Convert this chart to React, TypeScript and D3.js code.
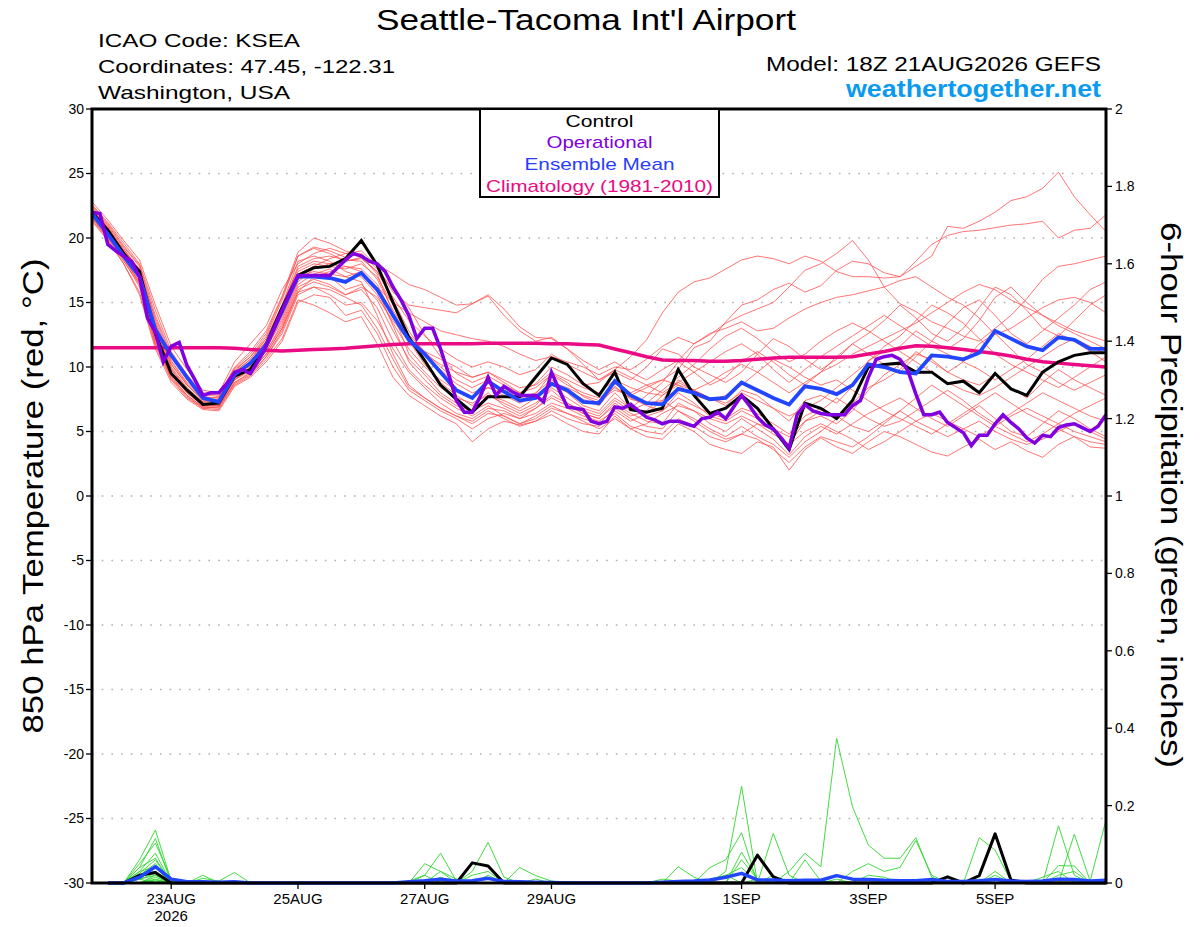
import React from "react";
import * as d3 from "d3";

// ---------- time base ----------
const START_UTC = Date.UTC(2026, 7, 21, 18);
const END_UTC = Date.UTC(2026, 8, 6, 18);
const HOUR_MS = 3600 * 1000;
const STEP_H = 6;
const OP_STEP_H = 3;

const dateTicks = [
  Date.UTC(2026, 7, 23), Date.UTC(2026, 7, 25), Date.UTC(2026, 7, 27), Date.UTC(2026, 7, 29),
  Date.UTC(2026, 8, 1), Date.UTC(2026, 8, 3), Date.UTC(2026, 8, 5),
];
const dateTickLabels = ["23AUG", "25AUG", "27AUG", "29AUG", "1SEP", "3SEP", "5SEP"];
const yearLabel = "2026";

const tempTicks = [30, 25, 20, 15, 10, 5, 0, -5, -10, -15, -20, -25, -30];
const gridTemps = [25, 20, 15, 10, 5, 0, -5, -10, -15, -20, -25];
const precipTicks = [0, 0.2, 0.4, 0.6, 0.8, 1, 1.2, 1.4, 1.6, 1.8, 2];
const precipTickLabels = ["0", "0.2", "0.4", "0.6", "0.8", "1", "1.2", "1.4", "1.6", "1.8", "2"];

// ---------- temperature (850 hPa, °C), 6-hourly from 21AUG 18Z ----------
const control = [22.0, 20.6, 18.8, 17.4, 12.6, 9.5, 8.2, 7.1, 7.2, 9.3,
  9.8, 11.8, 14.6, 17.1, 17.7, 17.8, 18.4, 19.8, 17.9, 15.0,
  12.3, 10.5, 8.6, 7.5, 6.5, 7.7, 7.7, 7.7, 9.2, 10.7,
  10.2, 8.7, 7.8, 9.6, 6.7, 6.5, 6.8, 9.8, 7.8, 6.4,
  6.8, 7.8, 6.8, 5.2, 3.6, 7.2, 6.8, 6.0, 7.4, 10.0,
  10.2, 10.3, 9.6, 9.6, 8.7, 8.9, 8.0, 9.5, 8.3, 7.8,
  9.6, 10.4, 10.9, 11.1, 11.1];

const ensMean = [21.9, 20.3, 18.6, 17.0, 12.9, 10.9, 9.2, 7.6, 7.3, 9.4,
  10.3, 11.7, 14.3, 17.0, 17.0, 16.9, 16.6, 17.3, 16.0, 14.0,
  12.1, 11.0, 9.6, 8.2, 7.6, 8.9, 8.1, 7.4, 7.6, 8.7,
  8.2, 7.3, 7.2, 8.9, 7.8, 7.2, 7.1, 8.3, 8.0, 7.5,
  7.6, 8.8, 8.2, 7.6, 7.1, 8.5, 8.3, 7.9, 8.6, 10.2,
  10.0, 9.6, 9.5, 10.9, 10.8, 10.6, 11.1, 12.8, 12.2, 11.6,
  11.3, 12.3, 12.1, 11.4, 11.4];

// operational run, 3-hourly
const operational = [22.0, 21.9, 19.5, 19.0, 18.6, 18.2, 17.0, 13.8, 12.7, 10.4,
  11.6, 11.9, 10.1, 9.0, 7.8, 8.0, 8.0, 8.7, 9.6, 9.8,
  9.5, 10.5, 11.6, 13.0, 14.4, 15.8, 17.1, 17.1, 17.1, 17.1,
  17.1, 17.7, 18.3, 18.8, 18.6, 18.2, 18.0, 17.4, 16.2, 15.2,
  14.0, 12.2, 13.0, 13.0, 11.4, 9.5, 7.4, 6.5, 6.5, 7.7,
  9.2, 7.8, 8.5, 8.1, 7.8, 7.8, 7.8, 7.3, 9.6, 8.2,
  6.9, 6.8, 6.7, 5.8, 5.6, 5.8, 6.9, 6.8, 7.1, 6.6,
  6.1, 5.9, 5.6, 5.8, 5.8, 5.6, 5.4, 6.0, 6.1, 6.5,
  6.0, 6.9, 7.8, 7.0, 6.1, 5.5, 5.2, 4.5, 3.7, 6.3,
  7.1, 6.6, 6.4, 6.3, 6.3, 6.3, 7.0, 7.4, 9.2, 10.6,
  10.8, 10.9, 10.6, 9.7, 7.9, 6.3, 6.3, 6.5, 5.7, 5.3,
  4.9, 3.9, 4.7, 4.7, 5.6, 6.3, 5.7, 5.2, 4.5, 4.1,
  4.7, 4.6, 5.3, 5.5, 5.6, 5.3, 5.0, 5.4, 6.3];

const climatology = [11.5, 11.5, 11.5, 11.5, 11.5, 11.5, 11.5, 11.5, 11.5, 11.45,
  11.35, 11.3, 11.25, 11.3, 11.35, 11.4, 11.45, 11.55, 11.65, 11.75,
  11.8, 11.8, 11.8, 11.8, 11.8, 11.85, 11.85, 11.85, 11.85, 11.8,
  11.8, 11.75, 11.7, 11.4, 11.1, 10.8, 10.55, 10.5, 10.5, 10.45,
  10.45, 10.5, 10.6, 10.7, 10.75, 10.75, 10.75, 10.75, 10.8, 11.0,
  11.2, 11.45, 11.65, 11.6, 11.5, 11.35, 11.2, 11.05, 10.85, 10.6,
  10.4, 10.3, 10.2, 10.1, 10.0];

// ensemble members
const m01 = [22.4, 21.0, 19.3, 17.8, 13.6, 10.5, 8.8, 7.6, 7.6, 9.8, 10.8, 12.4, 15.2, 18.6,
  19.3, 19.0, 18.5, 18.8, 17.6, 16.0, 14.6,
  12.5, 10.8, 9.5, 8.8, 9.3, 8.6, 8.0, 8.7, 10.0, 9.4,
  8.6, 8.8, 9.8, 10.8, 12.1, 14.2, 15.8, 16.6, 16.9, 17.6,
  18.3, 18.6, 18.4, 18.0, 18.6, 18.2, 17.4, 17.0, 17.0, 16.9,
  17.0, 17.8, 18.6, 20.9, 20.75, 21.3, 22.0, 22.9, 23.2, 23.85,
  25.1, 23.2, 21.8, 20.5];
const m02 = [21.8, 20.3, 18.7, 16.8, 12.4, 9.6, 8.0, 7.0, 7.0, 9.0, 10.0, 11.5, 13.6, 16.6,
  17.6, 18.0, 18.2, 18.5, 17.4, 15.2, 12.8,
  11.0, 9.8, 8.7, 8.0, 8.4, 8.0, 7.4, 7.9, 9.5, 8.8,
  7.7, 7.2, 8.7, 8.0, 8.6, 9.0, 9.8, 11.5, 12.0, 13.5,
  14.8, 15.2, 16.0, 16.5, 15.8, 16.3, 17.5, 18.2, 18.0, 17.3,
  17.0, 18.2, 19.5, 20.2, 20.5, 20.6, 20.8, 21.0, 21.1, 21.3,
  20.0, 20.6, 20.75, 21.8];
const m03 = [22.6, 21.2, 19.6, 18.0, 14.4, 11.2, 9.4, 8.0, 7.8, 10.0, 11.2, 12.8, 15.5, 18.9,
  20.0, 19.6, 19.0, 18.6, 18.0, 17.2, 16.4,
  16.0, 15.4, 14.8, 14.9, 15.5, 14.0, 12.8, 12.0, 12.3, 11.4,
  10.5, 9.8, 10.4, 9.6, 9.0, 9.8, 10.5, 11.8, 12.6, 13.0,
  13.5, 12.8, 13.0, 13.8, 14.5, 15.0, 15.4, 15.6, 15.9, 16.2,
  16.7, 17.0, 16.2, 15.4, 14.8, 13.8, 12.5, 13.0, 13.8, 14.6,
  15.2, 15.4, 15.0, 14.2];
const m04 = [21.6, 20.0, 18.2, 16.4, 12.0, 9.2, 7.8, 6.9, 6.8, 8.8, 9.6, 11.0, 13.0, 15.8,
  17.0, 17.4, 17.8, 17.4, 16.2, 15.0, 14.2,
  13.5, 12.8, 12.5, 12.2, 12.0, 11.6, 11.0, 10.5, 10.8, 10.4,
  10.0, 9.4, 10.0, 9.8, 10.6, 11.6, 12.3, 11.8, 12.5, 13.4,
  14.0, 14.5, 15.0, 16.2, 17.5, 18.0, 18.8, 19.8, 18.3, 16.2,
  14.9, 14.3, 13.5, 13.0, 12.4, 12.0, 13.0, 14.0, 15.3, 16.8,
  17.8, 18.0, 18.3, 18.6];
const m05 = [21.4, 19.9, 18.0, 15.8, 11.6, 9.0, 7.6, 6.8, 6.7, 8.6, 9.3, 10.6, 12.2, 15.2,
  14.8, 14.2, 13.5, 13.9, 11.8, 9.2, 7.8,
  7.0, 6.2, 5.6, 4.2, 5.2, 5.8, 5.5, 5.8, 6.3, 5.6,
  5.0, 4.8, 6.2, 5.2, 4.6, 4.4, 5.6, 5.0, 4.0, 3.6,
  3.3, 4.2, 3.8, 2.0, 3.6, 4.5, 3.8, 3.3, 4.2, 5.0,
  4.6, 4.0, 3.4, 3.1, 3.8, 4.4, 3.6, 4.2, 3.5, 3.0,
  4.0, 4.6, 3.8, 3.7];
const m06 = [22.2, 20.8, 19.0, 17.5, 13.2, 10.2, 8.6, 7.4, 7.5, 9.6, 10.6, 12.0, 14.6, 17.8,
  18.4, 18.6, 18.3, 18.2, 16.8, 14.4, 12.5,
  11.2, 10.0, 9.0, 8.4, 9.0, 8.2, 7.6, 8.0, 9.0, 8.2,
  7.5, 7.0, 8.5, 7.5, 7.2, 7.4, 9.0, 8.2, 7.6, 7.0,
  8.2, 7.8, 6.8, 5.8, 7.4, 7.8, 7.2, 8.5, 10.5, 11.2,
  11.6, 12.8, 12.0, 11.4, 12.2, 13.6, 15.4, 16.2, 15.0, 14.0,
  13.2, 12.6, 12.0, 11.4];
const m07 = [21.9, 20.4, 18.5, 16.9, 12.2, 9.4, 8.0, 7.1, 7.2, 9.2, 10.0, 11.4, 13.8, 16.8,
  17.2, 17.0, 16.0, 16.4, 15.2, 12.8, 10.6,
  9.4, 8.0, 7.2, 6.6, 7.8, 7.4, 6.8, 7.6, 8.8, 8.0,
  7.0, 6.6, 8.0, 6.8, 6.2, 6.6, 8.0, 7.2, 6.2, 5.8,
  6.6, 6.0, 5.0, 4.0, 5.8, 6.2, 5.6, 6.6, 8.2, 9.4,
  10.2, 11.0, 10.6, 9.6, 9.0, 8.6, 9.4, 8.4, 7.6, 8.8,
  9.8, 9.0, 8.4, 7.8];
const m08 = [22.8, 21.4, 19.8, 18.3, 14.8, 11.6, 9.8, 8.2, 8.0, 10.4, 11.8, 13.2, 16.0, 18.0,
  18.8, 19.2, 18.8, 19.0, 17.8, 15.8, 14.8,
  14.6, 14.4, 14.2, 14.9, 15.6, 14.5, 13.1, 12.3, 12.2, 11.4,
  10.2, 9.0, 9.6, 9.0, 10.0, 11.4, 11.0, 10.0, 9.4, 8.8,
  9.6, 11.0, 12.2, 11.6, 10.6, 9.8, 10.6, 11.8, 12.6, 13.6,
  14.8, 13.8, 12.6, 12.0, 13.0, 14.6, 16.2, 15.6, 14.4, 13.0,
  12.4, 13.6, 14.8, 15.6];
const m09 = [21.5, 20.0, 18.3, 16.2, 11.8, 9.3, 7.8, 6.9, 6.9, 8.8, 9.5, 10.8, 12.6, 15.6,
  16.2, 15.6, 14.8, 15.0, 13.6, 11.4, 9.6,
  8.4, 7.2, 6.4, 6.0, 6.8, 6.6, 6.0, 6.8, 7.6, 7.0,
  6.4, 6.0, 7.2, 6.4, 5.8, 5.6, 7.2, 6.6, 5.6, 5.0,
  6.0, 5.2, 4.4, 3.2, 4.6, 5.4, 4.8, 5.6, 6.4, 7.0,
  7.6, 6.8, 6.0, 5.4, 6.2, 7.0, 6.0, 5.0, 4.6, 5.6,
  6.6, 6.0, 5.2, 4.6];
const m10 = [22.1, 20.7, 19.1, 17.6, 13.4, 10.4, 8.7, 7.5, 7.4, 9.5, 10.4, 12.0, 14.4, 17.4,
  18.0, 17.8, 17.6, 18.0, 17.0, 14.8, 12.0,
  10.2, 8.8, 7.8, 7.0, 8.0, 7.0, 6.4, 7.0, 8.4, 7.6,
  6.8, 6.4, 7.6, 6.8, 7.8, 8.8, 10.4, 9.6, 8.6, 9.2,
  10.4, 11.2, 10.4, 9.4, 8.6, 9.6, 10.8, 11.8, 11.0, 10.2,
  9.6, 10.8, 12.0, 13.4, 14.6, 15.2, 14.0, 12.6, 11.8, 12.8,
  13.8, 14.8, 16.0, 16.6];
const m11 = [21.7, 20.2, 18.4, 16.6, 12.6, 9.8, 8.2, 7.2, 7.1, 9.1, 9.8, 11.2, 13.2, 16.2,
  16.8, 16.4, 15.6, 16.0, 14.6, 12.0, 9.8,
  8.6, 7.6, 6.8, 6.2, 7.0, 6.2, 5.6, 6.2, 7.0, 6.4,
  6.0, 5.6, 6.8, 6.0, 5.4, 5.2, 6.6, 6.0, 5.2, 4.6,
  5.4, 4.6, 4.0, 3.0, 4.2, 5.0, 6.0, 7.2, 8.4, 9.0,
  9.8, 11.2, 10.4, 9.6, 10.4, 11.8, 12.6, 11.4, 10.2, 9.6,
  8.8, 8.2, 8.8, 9.4];
const m12 = [22.3, 20.9, 19.2, 17.4, 13.8, 10.8, 9.0, 7.7, 7.6, 9.7, 10.8, 12.2, 14.8, 18.2,
  18.6, 18.2, 17.4, 17.0, 15.6, 13.4, 11.4,
  10.0, 9.0, 8.2, 7.6, 8.4, 7.8, 7.2, 7.8, 8.8, 8.4,
  7.8, 7.4, 8.2, 7.8, 8.4, 9.0, 8.6, 7.8, 7.4, 7.8,
  8.6, 9.6, 10.6, 10.0, 9.2, 8.6, 9.0, 8.2, 7.4, 6.6,
  6.0, 5.4, 4.8, 5.6, 6.4, 7.2, 8.0, 7.2, 6.4, 5.8,
  5.2, 4.6, 4.2, 4.0];
const m13 = [21.3, 19.8, 18.0, 15.6, 11.4, 8.8, 7.5, 6.7, 6.6, 8.5, 9.2, 10.4, 12.0, 15.0,
  15.6, 15.4, 14.0, 14.4, 12.6, 10.0, 8.2,
  7.4, 6.6, 6.0, 5.2, 6.0, 6.4, 6.0, 6.4, 7.2, 6.8,
  6.2, 5.8, 6.6, 5.8, 6.4, 7.4, 6.6, 5.8, 5.0, 4.4,
  4.8, 5.6, 5.2, 4.6, 5.8, 6.6, 7.6, 6.8, 6.0, 5.4,
  5.8, 6.6, 7.4, 8.2, 7.4, 6.4, 5.6, 6.4, 7.2, 8.0,
  7.4, 6.8, 6.2, 5.8];
const m14 = [22.0, 20.5, 18.7, 17.0, 12.8, 9.9, 8.3, 7.3, 7.3, 9.4, 10.1, 11.6, 14.2, 17.2,
  17.8, 18.4, 18.8, 18.6, 17.2, 14.2, 11.0,
  9.6, 8.4, 7.6, 7.2, 7.8, 7.2, 6.6, 7.2, 8.2, 7.2,
  6.4, 6.0, 7.0, 6.2, 6.6, 7.8, 8.8, 9.6, 10.4, 11.2,
  11.8, 11.0, 9.8, 8.8, 9.8, 10.8, 11.6, 12.4, 13.2, 14.0,
  13.2, 12.4, 11.6, 11.0, 10.4, 9.8, 9.0, 9.8, 10.6, 11.6,
  12.6, 12.0, 11.2, 10.4];
const m15 = [21.6, 20.1, 18.4, 16.6, 12.4, 9.6, 8.1, 7.1, 7.0, 9.0, 9.9, 11.2, 13.4, 16.4,
  17.2, 17.6, 17.0, 16.6, 14.0, 11.0, 8.6,
  7.6, 6.8, 6.2, 5.8, 6.6, 6.0, 5.4, 5.8, 6.6, 6.0,
  5.6, 5.4, 6.4, 5.4, 5.0, 4.8, 6.0, 5.4, 4.6, 4.2,
  4.8, 4.4, 3.6, 2.6, 3.8, 4.6, 4.2, 3.8, 4.6, 5.6,
  6.6, 7.6, 8.6, 7.8, 7.0, 6.2, 5.4, 4.8, 4.2, 4.8,
  5.6, 6.4, 7.0, 7.6];
const m16 = [22.5, 21.1, 19.4, 17.9, 14.0, 11.0, 9.2, 7.9, 7.7, 9.9, 11.0, 12.6, 15.4, 18.6,
  19.2, 18.8, 18.2, 18.4, 17.4, 15.4, 13.6,
  12.4, 11.4, 10.6, 10.0, 10.4, 10.0, 9.4, 9.8, 11.0, 10.2,
  9.6, 9.0, 9.8, 9.2, 8.6, 8.0, 8.8, 8.2, 7.6, 7.2,
  8.0, 7.4, 6.8, 6.2, 6.8, 7.4, 8.4, 9.4, 10.4, 11.6,
  12.4, 13.6, 14.8, 14.2, 13.4, 12.2, 11.0, 10.2, 9.6, 9.0,
  8.4, 9.2, 10.0, 10.8];
const m17 = [21.9, 20.4, 18.6, 16.8, 12.2, 9.5, 8.0, 7.0, 7.0, 9.0, 9.7, 11.0, 13.0, 16.0,
  16.6, 16.2, 15.6, 16.2, 15.4, 13.6, 12.0,
  11.0, 10.2, 9.6, 9.2, 9.6, 8.8, 8.0, 8.4, 9.4, 8.6,
  8.0, 7.6, 8.4, 7.6, 7.0, 6.6, 7.6, 7.0, 6.4, 6.0,
  6.8, 6.4, 5.6, 4.8, 6.2, 6.8, 6.2, 5.4, 5.0, 5.8,
  6.6, 5.8, 5.2, 4.6, 5.2, 5.8, 5.0, 4.4, 4.0, 4.4,
  5.0, 5.6, 5.0, 4.4];
const m18 = [22.2, 20.8, 19.0, 17.4, 13.2, 10.2, 8.6, 7.5, 7.4, 9.6, 10.6, 12.2, 14.8, 17.6,
  18.2, 18.0, 17.8, 17.6, 16.4, 14.0, 12.2,
  11.2, 10.6, 10.0, 9.2, 9.6, 9.0, 8.4, 8.6, 9.6, 9.0,
  8.4, 8.0, 9.0, 8.4, 8.0, 7.8, 8.6, 8.2, 8.8, 9.6,
  10.2, 9.6, 8.8, 8.0, 8.8, 9.6, 10.2, 11.0, 11.6, 12.2,
  12.8, 13.4, 14.2, 15.0, 15.8, 16.4, 16.0, 15.2, 14.6, 14.0,
  13.4, 12.8, 12.4, 12.0];
const m19 = [21.8, 20.3, 18.5, 16.4, 11.8, 9.1, 7.7, 6.8, 6.9, 8.7, 9.4, 10.8, 12.8, 15.8,
  16.2, 16.0, 15.4, 14.8, 13.0, 10.6, 8.4,
  7.6, 6.8, 6.2, 5.6, 6.4, 6.2, 5.6, 6.0, 6.8, 6.4,
  5.8, 5.2, 6.0, 5.2, 5.6, 6.4, 7.0, 6.6, 6.0, 5.6,
  6.2, 5.6, 4.8, 4.0, 5.0, 5.6, 5.0, 4.4, 3.6, 4.2,
  5.0, 5.8, 6.4, 5.8, 5.2, 4.6, 5.4, 6.2, 6.8, 6.2,
  5.6, 5.0, 4.6, 4.2];
const m20 = [22.0, 20.6, 18.9, 17.2, 13.0, 10.0, 8.4, 7.3, 7.3, 9.3, 10.2, 11.7, 14.0, 17.0,
  17.4, 17.2, 17.0, 17.4, 16.0, 13.2, 10.4,
  9.0, 7.8, 7.0, 6.6, 7.2, 6.8, 6.2, 6.8, 7.8, 7.2,
  6.6, 6.2, 7.4, 6.6, 7.2, 8.2, 9.2, 10.2, 11.4, 12.4,
  13.0, 12.2, 11.2, 10.4, 11.0, 12.0, 12.8, 13.4, 12.8, 12.0,
  11.2, 10.4, 9.6, 8.8, 8.2, 7.8, 8.4, 9.2, 10.0, 10.8,
  11.6, 12.2, 11.6, 11.0];

// ---------- 6-hour precipitation (inches), valid 22AUG 00Z .. 6SEP 18Z ----------
const controlPrecip = [0, 0, 0.02, 0.027, 0, 0, 0, 0,
  0, 0, 0, 0, 0, 0, 0, 0,
  0, 0, 0, 0, 0, 0, 0, 0.052,
  0.044, 0, 0, 0, 0, 0, 0, 0,
  0, 0, 0, 0, 0, 0, 0, 0,
  0, 0.072, 0.016, 0, 0, 0, 0, 0,
  0, 0, 0, 0, 0, 0.016, 0, 0.019,
  0.127, 0.008, 0, 0, 0, 0, 0, 0];
const meanPrecip = [0, 0, 0.015, 0.042, 0.01, 0.003, 0.003, 0.002,
  0.003, 0, 0, 0, 0, 0, 0, 0,
  0, 0, 0, 0.003, 0.006, 0.01, 0.005, 0.006,
  0.012, 0.004, 0.003, 0.002, 0.001, 0, 0, 0,
  0, 0, 0, 0.002, 0.004, 0.005, 0.008, 0.015,
  0.025, 0.008, 0.008, 0.006, 0.007, 0.007, 0.019, 0.01,
  0.009, 0.007, 0.006, 0.006, 0.009, 0.004, 0.004, 0.006,
  0.009, 0.005, 0.004, 0.005, 0.01, 0.009, 0.005, 0.007];
const p01 = [0, 0, 0.06, 0.137, 0.005, 0, 0, 0, 0, 0, 0, 0, 0, 0, 0, 0,
  0, 0, 0, 0, 0, 0, 0, 0, 0, 0, 0, 0, 0, 0, 0, 0,
  0, 0, 0, 0, 0, 0, 0, 0.03, 0.25, 0, 0, 0, 0, 0, 0, 0,
  0, 0, 0, 0, 0, 0, 0, 0, 0.02, 0, 0, 0, 0, 0, 0, 0];
const p02 = [0, 0, 0.04, 0.115, 0, 0, 0, 0, 0, 0, 0, 0, 0, 0, 0, 0,
  0, 0, 0, 0, 0.02, 0.077, 0.005, 0, 0, 0, 0, 0, 0, 0, 0, 0,
  0, 0, 0, 0, 0, 0, 0, 0, 0, 0, 0, 0.03, 0.077, 0.042, 0.374, 0.197,
  0.098, 0.064, 0.064, 0.117, 0.015, 0, 0, 0, 0, 0, 0, 0, 0, 0, 0, 0];
const p03 = [0, 0, 0.05, 0.103, 0.01, 0, 0, 0, 0, 0, 0, 0, 0, 0, 0, 0,
  0, 0, 0, 0, 0, 0, 0, 0, 0, 0, 0, 0, 0, 0, 0, 0,
  0, 0, 0, 0, 0, 0, 0.04, 0.06, 0.13, 0, 0.128, 0.02, 0, 0, 0, 0,
  0, 0, 0, 0, 0, 0, 0, 0, 0, 0, 0, 0, 0, 0, 0, 0];
const p04 = [0, 0, 0.03, 0.077, 0, 0, 0, 0.005, 0.027, 0, 0, 0, 0, 0, 0, 0,
  0, 0, 0, 0, 0, 0, 0, 0.03, 0.105, 0.015, 0, 0, 0, 0, 0, 0,
  0, 0, 0, 0, 0, 0, 0, 0, 0, 0, 0, 0, 0, 0, 0, 0,
  0, 0, 0, 0, 0, 0, 0, 0.117, 0.085, 0.005, 0, 0, 0, 0, 0, 0];
const p05 = [0, 0, 0.04, 0.064, 0, 0, 0, 0, 0, 0, 0, 0, 0, 0, 0, 0,
  0, 0, 0, 0, 0.05, 0.03, 0.01, 0, 0, 0, 0, 0, 0, 0, 0, 0,
  0, 0, 0, 0, 0, 0, 0, 0, 0.08, 0.01, 0, 0, 0, 0, 0, 0,
  0, 0, 0, 0, 0, 0, 0, 0, 0, 0, 0, 0, 0.148, 0.02, 0, 0];
const p06 = [0, 0, 0.02, 0.05, 0, 0, 0.02, 0, 0, 0, 0, 0, 0, 0, 0, 0,
  0, 0, 0, 0, 0, 0, 0, 0, 0, 0, 0.04, 0.019, 0.005, 0, 0, 0,
  0, 0, 0, 0, 0.042, 0.015, 0, 0, 0, 0, 0, 0, 0, 0, 0, 0,
  0, 0, 0, 0, 0, 0, 0, 0, 0, 0, 0, 0, 0, 0.126, 0.005, 0.163];
const p07 = [0, 0, 0.03, 0.042, 0, 0, 0, 0, 0, 0, 0, 0, 0, 0, 0, 0,
  0, 0, 0, 0, 0, 0, 0, 0, 0.02, 0, 0, 0, 0, 0, 0, 0,
  0, 0, 0, 0, 0, 0, 0, 0, 0.06, 0.01, 0, 0, 0, 0, 0, 0,
  0.02, 0.015, 0, 0, 0, 0, 0, 0, 0, 0, 0, 0, 0.045, 0.044, 0, 0];
const p08 = [0, 0, 0.015, 0.03, 0, 0, 0, 0, 0, 0, 0, 0, 0, 0, 0, 0,
  0, 0, 0, 0, 0, 0.03, 0, 0, 0, 0, 0, 0, 0, 0, 0, 0,
  0, 0, 0, 0, 0, 0, 0, 0, 0, 0, 0, 0, 0.06, 0.005, 0, 0,
  0, 0, 0, 0, 0.01, 0, 0, 0, 0, 0, 0, 0, 0, 0, 0, 0];
const p09 = [0, 0, 0.01, 0.02, 0, 0, 0, 0, 0, 0, 0, 0, 0, 0, 0, 0,
  0, 0, 0, 0, 0, 0, 0, 0, 0, 0, 0, 0, 0, 0, 0, 0,
  0, 0, 0, 0, 0, 0, 0, 0, 0, 0, 0, 0, 0, 0, 0, 0.03,
  0.05, 0.03, 0.04, 0.11, 0.02, 0, 0, 0.01, 0, 0, 0, 0, 0, 0, 0, 0];
const p10 = [0, 0, 0, 0.015, 0, 0, 0, 0, 0, 0, 0, 0, 0, 0, 0, 0,
  0, 0, 0, 0, 0, 0, 0, 0, 0, 0, 0, 0, 0, 0, 0, 0,
  0, 0, 0, 0, 0, 0, 0, 0.02, 0.04, 0, 0, 0, 0, 0, 0, 0,
  0, 0, 0, 0, 0, 0, 0, 0, 0.03, 0, 0, 0, 0, 0, 0, 0];
const p11 = [0, 0, 0, 0.01, 0, 0, 0, 0, 0, 0, 0, 0, 0, 0, 0, 0,
  0, 0, 0, 0, 0, 0, 0, 0.02, 0.03, 0, 0, 0, 0, 0, 0, 0,
  0, 0, 0, 0, 0, 0, 0, 0, 0, 0, 0.02, 0, 0, 0, 0, 0,
  0, 0, 0, 0, 0, 0, 0, 0, 0, 0, 0, 0.015, 0.03, 0, 0, 0];
const p12 = [0, 0, 0, 0.008, 0, 0, 0, 0, 0, 0, 0, 0, 0, 0, 0, 0,
  0, 0, 0, 0, 0, 0.015, 0, 0, 0, 0, 0, 0, 0, 0, 0, 0,
  0, 0, 0, 0, 0, 0, 0, 0, 0, 0, 0, 0, 0, 0, 0, 0,
  0, 0, 0, 0, 0, 0, 0, 0, 0, 0, 0, 0, 0, 0, 0, 0];
const p13 = [0, 0, 0, 0.005, 0, 0.005, 0, 0, 0, 0, 0, 0, 0, 0, 0, 0,
  0, 0, 0, 0, 0, 0, 0, 0, 0, 0, 0, 0, 0, 0, 0, 0,
  0, 0, 0, 0, 0, 0, 0, 0, 0, 0.01, 0, 0, 0, 0, 0, 0,
  0, 0, 0, 0, 0, 0, 0, 0, 0, 0.01, 0, 0, 0, 0, 0, 0];
const p14 = [0, 0, 0.02, 0.03, 0, 0, 0.012, 0.005, 0, 0, 0, 0, 0, 0, 0, 0,
  0, 0, 0, 0, 0, 0, 0, 0, 0, 0, 0, 0, 0, 0, 0, 0,
  0, 0, 0, 0, 0, 0, 0, 0, 0, 0, 0, 0, 0, 0, 0, 0,
  0, 0, 0, 0, 0, 0, 0, 0, 0, 0, 0, 0, 0, 0, 0, 0];
const p15 = [0, 0, 0.025, 0.06, 0, 0, 0, 0, 0, 0, 0, 0, 0, 0, 0, 0,
  0, 0, 0, 0, 0, 0, 0.01, 0, 0, 0, 0, 0, 0, 0, 0, 0,
  0, 0, 0, 0, 0, 0, 0, 0, 0, 0, 0, 0, 0, 0, 0.01, 0,
  0, 0, 0, 0, 0, 0, 0.005, 0, 0, 0, 0, 0, 0, 0, 0, 0];
const p16 = [0, 0, 0, 0.02, 0, 0, 0, 0, 0, 0, 0, 0, 0, 0, 0, 0,
  0, 0, 0, 0, 0, 0, 0, 0, 0, 0, 0, 0.01, 0, 0, 0, 0,
  0, 0, 0, 0, 0, 0, 0, 0, 0, 0, 0, 0.01, 0, 0, 0, 0,
  0, 0, 0, 0, 0, 0, 0, 0, 0, 0, 0, 0, 0, 0, 0, 0];
const p17 = [0, 0, 0.01, 0, 0, 0, 0, 0, 0, 0, 0, 0, 0, 0, 0, 0,
  0, 0, 0, 0, 0, 0, 0, 0, 0, 0, 0, 0, 0, 0, 0, 0,
  0, 0, 0, 0.01, 0.005, 0, 0, 0, 0, 0, 0, 0, 0, 0, 0, 0,
  0, 0, 0, 0, 0, 0, 0, 0, 0, 0, 0, 0, 0, 0, 0, 0];
const p18 = [0, 0, 0.01, 0.04, 0, 0, 0, 0, 0, 0, 0, 0, 0, 0, 0, 0,
  0, 0, 0, 0.005, 0.02, 0, 0, 0, 0, 0, 0, 0, 0, 0, 0, 0,
  0, 0, 0, 0, 0, 0, 0, 0, 0, 0, 0, 0, 0, 0, 0, 0,
  0, 0.005, 0, 0, 0, 0, 0, 0, 0, 0, 0, 0, 0, 0, 0, 0];
const p19 = [0, 0, 0.01, 0.025, 0, 0, 0, 0, 0, 0, 0, 0, 0, 0, 0, 0,
  0, 0, 0, 0, 0, 0, 0, 0, 0, 0, 0, 0, 0, 0, 0, 0,
  0, 0, 0, 0, 0, 0, 0.01, 0.02, 0, 0, 0, 0, 0, 0, 0, 0,
  0, 0, 0, 0, 0, 0, 0, 0, 0, 0, 0, 0, 0, 0, 0, 0];
const p20 = [0, 0, 0, 0, 0, 0, 0, 0, 0, 0, 0, 0, 0, 0, 0, 0,
  0, 0, 0, 0, 0, 0, 0, 0, 0, 0, 0, 0, 0, 0, 0, 0,
  0, 0, 0, 0, 0, 0, 0, 0, 0, 0, 0, 0, 0, 0, 0, 0,
  0, 0, 0, 0, 0, 0, 0, 0, 0, 0, 0, 0, 0.02, 0.03, 0, 0];

const tempMembers = [m01, m02, m03, m04, m05, m06, m07, m08, m09, m10,
  m11, m12, m13, m14, m15, m16, m17, m18, m19, m20];
const precipMembers = [p01, p02, p03, p04, p05, p06, p07, p08, p09, p10,
  p11, p12, p13, p14, p15, p16, p17, p18, p19, p20];

// ---------- layout ----------
const W = 1200;
const H = 927;
const L = 92, R = 1106, T = 109, B = 883;
const FONT = "'Liberation Sans', Arial, Helvetica, sans-serif";

export default function App() {
  const x = d3.scaleUtc().domain([new Date(START_UTC), new Date(END_UTC)]).range([L, R]);
  const yT = d3.scaleLinear().domain([-30, 30]).range([B, T]);
  const yP = d3.scaleLinear().domain([0, 2]).range([B, T]);

  const tLine = d3.line<number>()
    .x((_, i) => x(new Date(START_UTC + i * STEP_H * HOUR_MS)))
    .y((d) => yT(d));
  const opLine = d3.line<number>()
    .x((_, i) => x(new Date(START_UTC + i * OP_STEP_H * HOUR_MS)))
    .y((d) => yT(d));
  const pLine = d3.line<number>()
    .x((_, i) => x(new Date(START_UTC + (i + 1) * STEP_H * HOUR_MS)))
    .y((d) => yP(d));

  return (
    <svg width={W} height={H} viewBox={`0 0 ${W} ${H}`}
      style={{ position: "absolute", left: 0, top: 0, background: "#fff" }}
      fontFamily={FONT}>
      <rect x={0} y={0} width={W} height={H} fill="#fff" />

      {/* header */}
      <text x={586} y={30} fontSize={30} textAnchor="middle" textLength={420} lengthAdjust="spacingAndGlyphs">Seattle-Tacoma Int'l Airport</text>
      <text x={98} y={47} fontSize={19} textLength={202} lengthAdjust="spacingAndGlyphs">ICAO Code: KSEA</text>
      <text x={98} y={73} fontSize={19} textLength={297} lengthAdjust="spacingAndGlyphs">Coordinates: 47.45, -122.31</text>
      <text x={98} y={99} fontSize={19} textLength={192} lengthAdjust="spacingAndGlyphs">Washington, USA</text>
      <text x={1101} y={71} fontSize={19.5} textAnchor="end" textLength={335} lengthAdjust="spacingAndGlyphs">Model: 18Z 21AUG2026 GEFS</text>
      <text x={1101} y={97} fontSize={23} fontWeight="bold" fill="#0a9af0" textAnchor="end" textLength={255} lengthAdjust="spacingAndGlyphs">weathertogether.net</text>

      {/* grid */}
      {gridTemps.map((t) => (
        <line key={"g" + t} x1={L} x2={R} y1={yT(t)} y2={yT(t)} stroke="#b0b0b0" strokeWidth={1.6} strokeDasharray="1.6,8.1" />
      ))}

      {/* ensemble members: temperature */}
      <g fill="none" stroke="#ff4a4a" strokeWidth={0.9} strokeOpacity={0.85}>
        {tempMembers.map((m, k) => <path key={"m" + k} d={tLine(m) || ""} />)}
      </g>
      {/* ensemble members: precipitation */}
      <g fill="none" stroke="#2fd62f" strokeWidth={0.9}>
        {precipMembers.map((p, k) => <path key={"p" + k} d={pLine(p) || ""} />)}
      </g>

      {/* climatology, control, mean, operational */}
      <path d={tLine(climatology) || ""} fill="none" stroke="#ea0a83" strokeWidth={3.5} />
      <path d={pLine(controlPrecip) || ""} fill="none" stroke="#000" strokeWidth={3} strokeLinejoin="round" />
      <path d={pLine(meanPrecip) || ""} fill="none" stroke="#2246ff" strokeWidth={3.5} strokeLinejoin="round" />
      <path d={tLine(control) || ""} fill="none" stroke="#000" strokeWidth={3} />
      <path d={tLine(ensMean) || ""} fill="none" stroke="#2246ff" strokeWidth={3.8} />
      <path d={opLine(operational) || ""} fill="none" stroke="#8000e0" strokeWidth={3.5} />

      {/* frame */}
      <rect x={L} y={T} width={R - L} height={B - T} fill="none" stroke="#000" strokeWidth={3} />

      {/* left axis */}
      {tempTicks.map((t) => (
        <g key={"lt" + t}>
          <line x1={L - 6} x2={L} y1={yT(t)} y2={yT(t)} stroke="#000" strokeWidth={1.3} />
          <text x={L - 8} y={yT(t)} dy="0.35em" fontSize={14} textAnchor="end">{t}</text>
        </g>
      ))}
      {/* right axis */}
      {precipTicks.map((p, i) => (
        <g key={"rt" + i}>
          <line x1={R} x2={R + 6} y1={yP(p)} y2={yP(p)} stroke="#000" strokeWidth={1.3} />
          <text x={R + 9} y={yP(p)} dy="0.35em" fontSize={14}>{precipTickLabels[i]}</text>
        </g>
      ))}
      {/* bottom axis */}
      {dateTicks.map((d, i) => (
        <g key={"bt" + i}>
          <line x1={x(new Date(d))} x2={x(new Date(d))} y1={B} y2={B + 6} stroke="#000" strokeWidth={1.3} />
          <text x={x(new Date(d))} y={904} fontSize={15} textAnchor="middle">{dateTickLabels[i]}</text>
        </g>
      ))}
      <text x={x(new Date(dateTicks[0]))} y={921} fontSize={15} textAnchor="middle">{yearLabel}</text>

      {/* axis titles */}
      <text transform="translate(43,496) rotate(-90)" fontSize={30} textAnchor="middle" textLength={475} lengthAdjust="spacingAndGlyphs">850 hPa Temperature (red, °C)</text>
      <text transform="translate(1161,495) rotate(90)" fontSize={30} textAnchor="middle" textLength={546} lengthAdjust="spacingAndGlyphs">6-hour Precipitation (green, inches)</text>

      {/* legend */}
      <rect x={480} y={109} width={239} height={88} fill="#fff" stroke="#000" strokeWidth={2} />
      <text x={599.5} y={127} fontSize={17} textAnchor="middle" textLength={68} lengthAdjust="spacingAndGlyphs">Control</text>
      <text x={599.5} y={148} fontSize={17} textAnchor="middle" fill="#8000e0" textLength={106} lengthAdjust="spacingAndGlyphs">Operational</text>
      <text x={599.5} y={170} fontSize={17} textAnchor="middle" fill="#2a3cff" textLength={150} lengthAdjust="spacingAndGlyphs">Ensemble Mean</text>
      <text x={599.5} y={192} fontSize={17} textAnchor="middle" fill="#ea0a83" textLength={227} lengthAdjust="spacingAndGlyphs">Climatology (1981-2010)</text>
    </svg>
  );
}
